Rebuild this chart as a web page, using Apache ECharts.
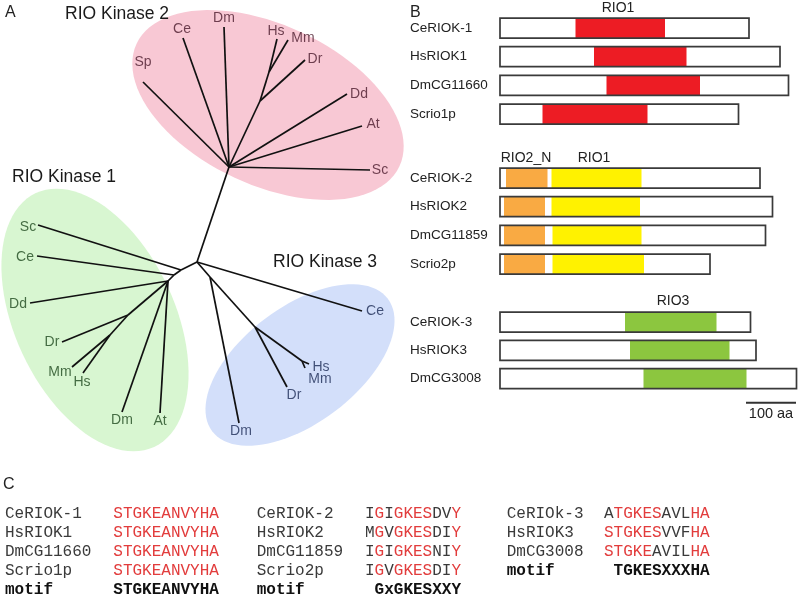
<!DOCTYPE html>
<html><head><meta charset="utf-8">
<script src="https://cdn.jsdelivr.net/npm/echarts@6/dist/echarts.min.js"></script>
<style>html,body{margin:0;padding:0;background:#fff}#c{width:800px;height:598px}</style>
</head><body><div id="c"></div>
<script>
// ---------- Panel A: unrooted tree (tree-layout units) ----------
const treeInner = [['R',197,262],['H2',229,167],['N1',260,101],['N2',269,72],
  ['A1',181,270],['A2',174,275],['A3',168,281],['A4',128,315],['A5',110,335],
  ['B1',210,277],['B2',255,327],['B3',302,361]];
const rio2Leaves = [['Sp',143,82],['Ce',183,38],['Dm',224,27],['Hs',277,39],['Mm',288,40],
  ['Dr',305,60],['Dd',347,94],['At',362,126],['Sc',370,170]];
const rio1Leaves = [['Sc',38,225],['Ce',37,256],['Dd',30,303],['Dr',62,342],['Mm',72,367],
  ['Hs',83,373],['Dm',122,412],['At',160,413]];
const rio3Leaves = [['Ce',362,311],['Hs',309,364],['Mm',305,368],['Dr',287,387],['Dm',239,423]];
const rio2Edges = [['R','H2'],['H2','k2Sp'],['H2','k2Ce'],['H2','k2Dm'],['H2','N1'],['N1','N2'],
  ['N2','k2Hs'],['N2','k2Mm'],['N1','k2Dr'],['H2','k2Dd'],['H2','k2At'],['H2','k2Sc']];
const rio1Edges = [['R','A1'],['A1','k1Sc'],['A1','A2'],['A2','k1Ce'],['A2','A3'],['A3','k1Dd'],
  ['A3','A4'],['A4','k1Dr'],['A4','A5'],['A5','k1Mm'],['A5','k1Hs'],['A3','k1Dm'],['A3','k1At']];
const rio3Edges = [['R','k3Ce'],['R','B1'],['B1','k3Dm'],['B1','B2'],['B2','k3Dr'],['B2','B3'],
  ['B3','k3Hs'],['B3','k3Mm']];
// clade shading: centre x, centre y, semi-major, semi-minor, angle (deg)
const cladeEllipses = [[268,105,145,80,25],[95,320,140,80,65],[300,365,110,58,-37]];
const cladeTitles = ['RIO Kinase 2','RIO Kinase 1','RIO Kinase 3'];

// ---------- Panel B: domain architecture (amino acids) ----------
const rio1Proteins = ['CeRIOK-1','HsRIOK1','DmCG11660','Scrio1p'];
const rio1Lengths = [498,560,577,477];
const rio1Domain = [[151,330],[188,373],[213,400],[85,295]];
const rio2Proteins = ['CeRIOK-2','HsRIOK2','DmCG11859','Scrio2p'];
const rio2Lengths = [520,545,531,420];
const rio2NDomain = [[12,95],[8,90],[8,90],[8,90]];
const rio2KDomain = [[103,283],[103,280],[105,283],[105,288]];
const rio3Proteins = ['CeRIOK-3','HsRIOK3','DmCG3008'];
const rio3Lengths = [501,512,593];
const rio3Domain = [[250,433],[260,459],[287,493]];
const scaleBar = [492,592]; // 100 aa

// ---------- Panel C: motif alignment ----------
const alignNames1 = ['CeRIOK-1','HsRIOK1','DmCG11660','Scrio1p'];
const alignSeqs1 = ['STGKEANVYHA','STGKEANVYHA','STGKEANVYHA','STGKEANVYHA'];
const alignMasks1 = ['rrrrrrrrrrr','rrrrrrrrrrr','rrrrrrrrrrr','rrrrrrrrrrr'];
const alignNames2 = ['CeRIOK-2','HsRIOK2','DmCG11859','Scrio2p'];
const alignSeqs2 = ['IGIGKESDVY','MGVGKESDIY','IGIGKESNIY','IGVGKESDIY'];
const alignMasks2 = ['krkrrrrkkr','krkrrrrkkr','krkrrrrkkr','krkrrrrkkr'];
const alignNames3 = ['CeRIOk-3','HsRIOK3','DmCG3008'];
const alignSeqs3 = ['ATGKESAVLHA','STGKESVVFHA','STGKEAVILHA'];
const alignMasks3 = ['krrrrrkkkrr','rrrrrrkkkrr','rrrrrkkkkrr'];
const motifs = ['STGKEANVYHA','GxGKESXXY','TGKESXXXHA'];

// ---------- styles ----------
const SANS = '"Liberation Sans", Arial, sans-serif';
const MONO = '"Liberation Mono", "Courier New", monospace';
const rio2LabelOffsets = {Sp:[0,-20],Ce:[-1,-9],Dm:[0,-9],Hs:[-1,-8],Mm:[15,-2],Dr:[10,-1],Dd:[12,0],At:[11,-2],Sc:[10,0]};
const rio1LabelOffsets = {Sc:[-10,2],Ce:[-12,1],Dd:[-12,1],Dr:[-10,0],Mm:[-12,5],Hs:[-1,9],Dm:[0,8],At:[0,8]};
const rio3LabelOffsets = {Ce:[13,0],Hs:[12,3],Mm:[15,11],Dr:[7,8],Dm:[2,8]};
const cladeFill = ['#f8c8d4','#d8f6d1','#d3dffa'];
const cladeText = ['#4a1a2c','#1f4a1f','#1c2a55'];

const nodeMap = {};
treeInner.forEach(n => nodeMap[n[0]] = [n[1], n[2]]);
rio2Leaves.forEach(n => nodeMap['k2' + n[0]] = [n[1], n[2]]);
rio1Leaves.forEach(n => nodeMap['k1' + n[0]] = [n[1], n[2]]);
rio3Leaves.forEach(n => nodeMap['k3' + n[0]] = [n[1], n[2]]);
const allEdges = rio2Edges.concat(rio1Edges, rio3Edges);

function leafLabels(leaves, offs, color) {
  return {
    type: 'scatter', xAxisIndex: 0, yAxisIndex: 0, symbolSize: 1, silent: true, z: 5,
    itemStyle: {color: 'rgba(0,0,0,0)'},
    label: {show: true, position: 'inside', formatter: '{b}', color: color, fontSize: 14, fontFamily: SANS},
    data: leaves.map(l => ({name: l[0], value: [l[1] + offs[l[0]][0], l[2] + offs[l[0]][1]]}))
  };
}

function ellipseRender(params, api) {
  const cx = api.value(0), cy = api.value(1), a = api.value(2), b = api.value(3);
  const th = api.value(4) * Math.PI / 180;
  const pts = [];
  for (let i = 0; i < 96; i++) {
    const t = i / 96 * Math.PI * 2;
    const x = cx + a * Math.cos(t) * Math.cos(th) - b * Math.sin(t) * Math.sin(th);
    const y = cy + a * Math.cos(t) * Math.sin(th) + b * Math.sin(t) * Math.cos(th);
    pts.push(api.coord([x, y]));
  }
  return {type: 'polygon', shape: {points: pts}, style: {fill: cladeFill[params.dataIndex]}};
}

function proteinRender(colors) {
  return function (params, api) {
    const len = api.value(0), row = api.value(1);
    const p0 = api.coord([0, row]), p1 = api.coord([len, row]);
    const h = 20, y = p0[1] - h / 2;
    const ch = [{type: 'rect', shape: {x: p0[0], y: y, width: p1[0] - p0[0], height: h}, style: {fill: '#fff'}}];
    colors.forEach((c, k) => {
      const s = api.coord([api.value(2 + 2 * k), row])[0];
      const e = api.coord([api.value(3 + 2 * k), row])[0];
      ch.push({type: 'rect', shape: {x: s, y: y, width: e - s, height: h}, style: {fill: c}});
    });
    ch.push({type: 'rect', shape: {x: p0[0], y: y, width: p1[0] - p0[0], height: h},
      style: {fill: 'none', stroke: '#3a3a3a', lineWidth: 1.7}});
    return {type: 'group', children: ch};
  };
}

const bLeft = 500, bWidth = 300, aaMax = 600;
const grids = [
  {left: 0, top: 0, width: 420, height: 460},
  {left: bLeft, width: bWidth, top: 13.7, height: 114.7},
  {left: bLeft, width: bWidth, top: 163.7, height: 114.7},
  {left: bLeft, width: bWidth, top: 307.9, height: 84.75},
  {left: bLeft, width: bWidth, top: 394.7, height: 16}
];
const xAxes = [{gridIndex: 0, type: 'value', min: 0, max: 420, show: false}];
const yAxes = [{gridIndex: 0, type: 'value', min: 0, max: 460, inverse: true, show: false}];
[rio1Proteins, rio2Proteins, rio3Proteins, ['scale']].forEach((names, i) => {
  xAxes.push({gridIndex: i + 1, type: 'value', min: 0, max: aaMax, show: false});
  yAxes.push({gridIndex: i + 1, type: 'category', data: names, inverse: true, show: i < 3,
    axisLine: {show: false}, axisTick: {show: false}, splitLine: {show: false},
    axisLabel: {align: 'left', margin: 90, fontSize: 13.5, color: '#222', fontFamily: SANS}});
});

const series = [
  {type: 'custom', xAxisIndex: 0, yAxisIndex: 0, renderItem: ellipseRender, data: cladeEllipses, silent: true, clip: false, z: 1},
  {type: 'lines', coordinateSystem: 'cartesian2d', xAxisIndex: 0, yAxisIndex: 0, silent: true, z: 3,
    lineStyle: {color: '#111', width: 1.7, opacity: 1, curveness: 0},
    data: allEdges.map(e => ({coords: [nodeMap[e[0]], nodeMap[e[1]]]}))},
  leafLabels(rio2Leaves, rio2LabelOffsets, cladeText[0]),
  leafLabels(rio1Leaves, rio1LabelOffsets, cladeText[1]),
  leafLabels(rio3Leaves, rio3LabelOffsets, cladeText[2]),
  {type: 'custom', xAxisIndex: 1, yAxisIndex: 1, silent: true, clip: false,
    renderItem: proteinRender(['#ed1c24']),
    data: rio1Lengths.map((l, i) => [l, i, rio1Domain[i][0], rio1Domain[i][1]])},
  {type: 'custom', xAxisIndex: 2, yAxisIndex: 2, silent: true, clip: false,
    renderItem: proteinRender(['#f9aa43', '#fff200']),
    data: rio2Lengths.map((l, i) => [l, i, rio2NDomain[i][0], rio2NDomain[i][1], rio2KDomain[i][0], rio2KDomain[i][1]])},
  {type: 'custom', xAxisIndex: 3, yAxisIndex: 3, silent: true, clip: false,
    renderItem: proteinRender(['#8cc63f']),
    data: rio3Lengths.map((l, i) => [l, i, rio3Domain[i][0], rio3Domain[i][1]])},
  {type: 'custom', xAxisIndex: 4, yAxisIndex: 4, silent: true, clip: false,
    renderItem: function (params, api) {
      const a = api.coord([api.value(0), 0]), b = api.coord([api.value(2), 0]);
      return {type: 'group', children: [
        {type: 'line', shape: {x1: a[0], y1: a[1], x2: b[0], y2: b[1]}, style: {stroke: '#333', lineWidth: 2}},
        {type: 'text', x: (a[0] + b[0]) / 2, y: a[1] + 11,
          style: {text: '100 aa', textAlign: 'center', textVerticalAlign: 'middle', fontSize: 14.5, fontFamily: SANS, fill: '#222'}}
      ]};
    },
    data: [[scaleBar[0], 0, scaleBar[1]]]}
];

// ---------- text graphics ----------
const graphics = [];
function txt(x, y, s, o) {
  o = o || {};
  graphics.push({type: 'text', x: x, y: y, silent: true, z: 10,
    style: {text: s, textAlign: o.align || 'left', textVerticalAlign: 'middle',
      fontSize: o.size || 14, fontFamily: o.family || SANS, fontWeight: o.weight || 'normal', fill: o.color || '#222'}});
}
txt(5, 13, 'A', {size: 16});
txt(410, 13, 'B', {size: 16});
txt(3, 485, 'C', {size: 16});
txt(65, 14, cladeTitles[0], {size: 17.5, color: '#1a1a1a'});
txt(12, 177, cladeTitles[1], {size: 17.5, color: '#1a1a1a'});
txt(273, 262, cladeTitles[2], {size: 17.5, color: '#1a1a1a'});
txt(618, 8.5, 'RIO1', {align: 'center'});
txt(526, 158.5, 'RIO2_N', {align: 'center'});
txt(594, 158.5, 'RIO1', {align: 'center'});
txt(673, 301, 'RIO3', {align: 'center'});

const CW = 9.6, rowY = [513.3, 532.5, 551.7, 571, 590.2];
const RED = '#e23c3c', GREY = '#3a3a3a';
function seqRuns(x, y, seq, mask) {
  let i = 0;
  while (i < seq.length) {
    let j = i;
    while (j < seq.length && mask[j] === mask[i]) j++;
    txt(x + i * CW, y, seq.slice(i, j), {size: 16, family: MONO, color: mask[i] === 'r' ? RED : GREY});
    i = j;
  }
}
const cols = [
  {nx: 5, sx: 113.3, names: alignNames1, seqs: alignSeqs1, masks: alignMasks1, mx: 113.3},
  {nx: 256.7, sx: 365, names: alignNames2, seqs: alignSeqs2, masks: alignMasks2, mx: 374.6},
  {nx: 506.7, sx: 604, names: alignNames3, seqs: alignSeqs3, masks: alignMasks3, mx: 613.6}
];
cols.forEach((c, ci) => {
  c.names.forEach((n, r) => {
    txt(c.nx, rowY[r], n, {size: 16, family: MONO, color: GREY});
    seqRuns(c.sx, rowY[r], c.seqs[r], c.masks[r]);
  });
  const mr = c.names.length;
  txt(c.nx, rowY[mr], 'motif', {size: 16, family: MONO, weight: 'bold', color: '#111'});
  txt(c.mx, rowY[mr], motifs[ci], {size: 16, family: MONO, weight: 'bold', color: '#111'});
});

const chart = echarts.init(document.getElementById('c'), null, {renderer: 'canvas'});
chart.setOption({
  animation: false,
  backgroundColor: '#fff',
  grid: grids, xAxis: xAxes, yAxis: yAxes, series: series, graphic: graphics
});
</script></body></html>
